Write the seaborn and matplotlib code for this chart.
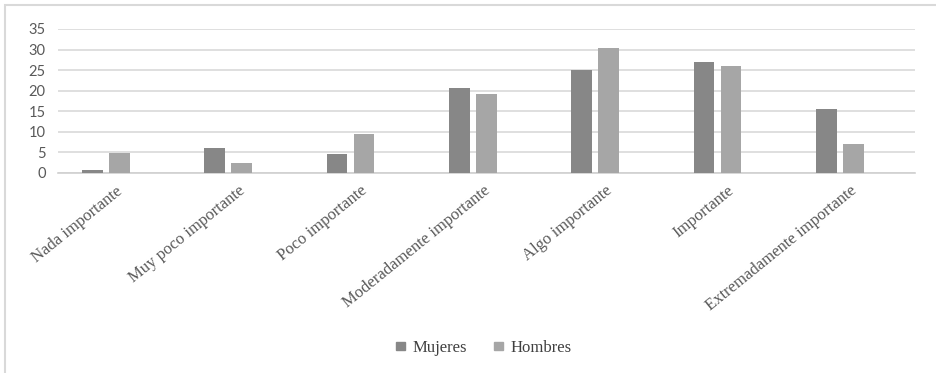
import matplotlib
matplotlib.use("Agg")
import matplotlib.pyplot as plt
from matplotlib.patches import Rectangle
from matplotlib.transforms import ScaledTranslation
import seaborn as sns
import pandas as pd

# Importance ratings by sex (percent)
categorias = [
    "Nada importante",
    "Muy poco importante",
    "Poco importante",
    "Moderadamente importante",
    "Algo importante",
    "Importante",
    "Extremadamente importante",
]
mujeres = [0.8, 6.1, 4.5, 20.6, 25.0, 27.0, 15.5]
hombres = [4.9, 2.5, 9.4, 19.1, 30.5, 26.1, 7.0]
series = ["Mujeres", "Hombres"]
y_ticks = [0, 5, 10, 15, 20, 25, 30, 35]

df = pd.DataFrame({
    "Categoria": categorias * 2,
    "Sexo": [series[0]] * len(categorias) + [series[1]] * len(categorias),
    "Valor": mujeres + hombres,
})

sns.set_theme(style="white")
plt.rcParams["font.family"] = ["Liberation Serif", "DejaVu Serif"]

W, H = 936, 373
fig = plt.figure(figsize=(W / 100, H / 100), dpi=100)
ax = fig.add_axes([58 / W, 1 - 173 / H, (915 - 58) / W, (173 - 29) / H])

palette = {"Mujeres": "#878787", "Hombres": "#a6a6a6"}
sns.barplot(data=df, x="Categoria", y="Valor", hue="Sexo", order=categorias,
            hue_order=series, palette=palette, width=0.44, gap=0.23,
            saturation=1, edgecolor="none", ax=ax, legend=False, zorder=3)

ax.set_xlim(-0.392, 6.615)
ax.set_ylim(0, 35)
ax.set_yticks(y_ticks)
ax.set_yticklabels([str(v) for v in y_ticks], family=["Lato", "DejaVu Sans"],
                   fontsize=10.5, color="#595959")
ax.yaxis.grid(True, color="#d9d9d9", linewidth=1.2, zorder=0)
ax.set_axisbelow(True)
ax.tick_params(axis="y", length=0, pad=9)
ax.tick_params(axis="x", length=0, pad=0)
for s in ["top", "right", "left"]:
    ax.spines[s].set_visible(False)
ax.spines["bottom"].set_color("#d0d0d0")
ax.spines["bottom"].set_linewidth(1.2)
ax.set_xlabel("")
ax.set_ylabel("")

ax.set_xticks(range(len(categorias)))
ax.set_xticklabels(categorias, rotation=39, ha="right", va="top",
                   rotation_mode="anchor", fontsize=12, color="#595959")
shift = ScaledTranslation(0.10, -0.10, fig.dpi_scale_trans)
for lab in ax.get_xticklabels():
    lab.set_transform(lab.get_transform() + shift)

# Legend with small square keys
handles = [Rectangle((0, 0), 1, 1, color=palette[s]) for s in series]
leg = fig.legend(handles, series, loc="center", ncol=2,
                 bbox_to_anchor=(484 / W, 1 - 348 / H), frameon=False,
                 handlelength=0.55, handleheight=0.4, handletextpad=0.45,
                 columnspacing=1.6, fontsize=12)
for t in leg.get_texts():
    t.set_color("#404040")

# Chart area border
fig.patches.append(Rectangle((5 / W, -0.1), 1.2, 1.1 - 5 / H,
                             transform=fig.transFigure, fill=False,
                             edgecolor="#d9d9d9", linewidth=1.5))

fig.savefig("out.png", dpi=100)
